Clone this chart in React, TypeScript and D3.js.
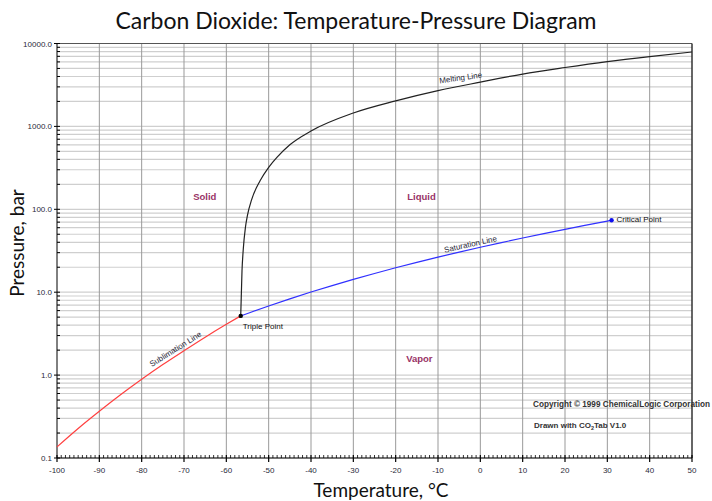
import React from "react";
import * as d3 from "d3";

// ---- data ----
const sublimationT = [-100, -95, -90, -85, -80, -75, -70, -65, -60, -56.6];
const sublimationP = [0.136, 0.227, 0.366, 0.578, 0.89, 1.34, 1.97, 2.87, 4.1, 5.18];

const saturationT = [-56.6, -55, -50, -45, -40, -35, -30, -25, -20, -15, -10, -5, 0, 5, 10, 15, 20, 25, 30, 31];
const saturationP = [5.18, 5.54, 6.82, 8.32, 10.05, 12.02, 14.28, 16.83, 19.7, 22.91, 26.49, 30.46, 34.85, 39.69, 45.02, 50.87, 57.29, 64.34, 72.14, 73.8];

const meltingT = [-56.6, -56.3, -56, -55.5, -55, -54, -52, -50, -48, -45, -40, -30, -20, -10, 0, 10, 20, 30, 40, 50];
const meltingP = [5.18, 18, 33, 60, 85, 132, 222, 320, 425, 600, 880, 1450, 2030, 2700, 3420, 4280, 5130, 6050, 6960, 7900];

const triplePoint = { t: -56.6, p: 5.18 };
const criticalPoint = { t: 31, p: 73.8 };

const xTicks = [-100, -90, -80, -70, -60, -50, -40, -30, -20, -10, 0, 10, 20, 30, 40, 50];
const yDecades = [0.1, 1, 10, 100, 1000, 10000];
const yTickLabels = ["0.1", "1.0", "10.0", "100.0", "1000.0", "10000.0"];

const regionLabels = [
  { text: "Solid", t: -65.1, p: 130 },
  { text: "Liquid", t: -13.9, p: 130 },
  { text: "Vapor", t: -14.4, p: 1.44 },
];

const TITLE = "Carbon Dioxide: Temperature-Pressure Diagram";

export default function App() {
  const W = 712;
  const H = 501;
  const left = 57;
  const right = 692;
  const top = 43.5;
  const bottom = 458;

  const x = d3.scaleLinear().domain([-100, 50]).range([left, right]);
  const y = d3.scaleLog().domain([0.1, 10000]).range([bottom, top]);

  const line = (ts: number[], ps: number[]) =>
    d3
      .line<number>()
      .x((_, i) => x(ts[i]))
      .y((_, i) => y(ps[i]))
      .curve(d3.curveMonotoneX)(ts) as string;

  const hGrid: number[] = [];
  yDecades.slice(0, -1).forEach((d) => {
    for (let k = 1; k <= 9; k++) hGrid.push(d * k);
  });
  hGrid.push(10000);

  const minorX: number[] = d3.range(-100, 51, 1);

  const smallFont = "'Liberation Sans', Arial, sans-serif";
  const textCol = "#2a2a3a";

  return (
    <svg width={W} height={H} style={{ position: "absolute", left: 0, top: 0, background: "#fff" }}>
      <rect x={0} y={0} width={W} height={H} fill="#fff" />
      {/* horizontal grid */}
      {hGrid.map((v, i) => (
        <line key={"h" + i} x1={left} x2={right} y1={y(v)} y2={y(v)} stroke="#cfcfcf" strokeWidth={1.2} />
      ))}
      {/* vertical grid */}
      {xTicks.slice(1, -1).map((t) => (
        <line key={"v" + t} x1={x(t)} x2={x(t)} y1={top} y2={bottom} stroke="#999" strokeWidth={1} />
      ))}
      {/* frame */}
      <line x1={left} x2={right} y1={top} y2={top} stroke="#555" strokeWidth={1} />
      <line x1={right} x2={right} y1={top} y2={bottom} stroke="#333" strokeWidth={1.5} />
      <line x1={left} x2={left} y1={top} y2={bottom} stroke="#000" strokeWidth={1} />
      <line x1={left} x2={right} y1={bottom} y2={bottom} stroke="#000" strokeWidth={1} />

      {/* x ticks */}
      {minorX.map((t) => (
        <line
          key={"mx" + t}
          x1={x(t)}
          x2={x(t)}
          y1={bottom - 3}
          y2={t % 10 === 0 ? bottom + 4 : bottom}
          stroke="#000"
          strokeWidth={t % 10 === 0 ? 1.2 : 0.8}
        />
      ))}
      {xTicks.map((t) => (
        <text key={"xl" + t} x={x(t)} y={bottom + 15} textAnchor="middle" fontFamily={smallFont} fontSize={8} fill={textCol}>
          {t}
        </text>
      ))}

      {/* y ticks */}
      {hGrid.map((v, i) => (
        <line
          key={"my" + i}
          x1={i % 9 === 0 || v === 10000 ? left - 3 : left}
          x2={left + 3}
          y1={y(v)}
          y2={y(v)}
          stroke="#000"
          strokeWidth={1}
        />
      ))}
      {yDecades.map((v, i) => (
        <text key={"yl" + v} x={left - 5} y={y(v) + 3} textAnchor="end" fontFamily={smallFont} fontSize={8} fill={textCol}>
          {yTickLabels[i]}
        </text>
      ))}

      {/* curves */}
      <path d={line(sublimationT, sublimationP)} fill="none" stroke="#ff4040" strokeWidth={1.2} />
      <path d={line(saturationT, saturationP)} fill="none" stroke="#3030ff" strokeWidth={1.2} />
      <path d={line(meltingT, meltingP)} fill="none" stroke="#222" strokeWidth={1.2} />

      <circle cx={x(triplePoint.t)} cy={y(triplePoint.p)} r={2.2} fill="#000" />
      <circle cx={x(criticalPoint.t)} cy={y(criticalPoint.p)} r={2.2} fill="#1010ee" />

      {/* curve labels */}
      <text x={x(-9.6)} y={y(3300)} transform={`rotate(-8, ${x(-9.6)}, ${y(3300)})`} fontFamily={smallFont} fontSize={8} fill={textCol}>
        Melting Line
      </text>
      <text x={x(-8.4)} y={y(30)} transform={`rotate(-12.5, ${x(-8.4)}, ${y(30)})`} fontFamily={smallFont} fontSize={8} fill={textCol}>
        Saturation Line
      </text>
      <text x={x(-77.6)} y={y(1.25)} transform={`rotate(-32, ${x(-77.6)}, ${y(1.25)})`} fontFamily={smallFont} fontSize={8} fill={textCol}>
        Sublimation Line
      </text>
      <text x={x(triplePoint.t) + 2} y={y(triplePoint.p) + 13} fontFamily={smallFont} fontSize={8} fill="#111">
        Triple Point
      </text>
      <text x={x(criticalPoint.t) + 5} y={y(criticalPoint.p) + 2} fontFamily={smallFont} fontSize={8} fill="#111">
        Critical Point
      </text>

      {/* region labels */}
      {regionLabels.map((r) => (
        <text
          key={r.text}
          x={x(r.t)}
          y={y(r.p)}
          textAnchor="middle"
          fontFamily={smallFont}
          fontWeight="bold"
          fontSize={9.5}
          fill="#993366"
        >
          {r.text}
        </text>
      ))}

      {/* credits */}
      <text x={533} y={407} fontFamily={smallFont} fontWeight="bold" fontSize={8.2} fill="#333">
        Copyright © 1999 ChemicalLogic Corporation
      </text>
      <text x={534} y={428} fontFamily={smallFont} fontWeight="bold" fontSize={8} fill="#333">
        Drawn with CO<tspan fontSize={5.5} dy={2}>2</tspan>
        <tspan dy={-2}>Tab V1.0</tspan>
      </text>

      {/* titles */}
      <text x={356} y={29} textAnchor="middle" fontFamily="Lato, 'Open Sans', sans-serif" fontSize={23} fill="#111">
        {TITLE}
      </text>
      <text x={381} y={497} textAnchor="middle" fontFamily="Lato, 'Open Sans', sans-serif" fontSize={19} fill="#111">
        Temperature, °C
      </text>
      <text
        x={0}
        y={0}
        transform={`translate(24, 243) rotate(-90)`}
        textAnchor="middle"
        fontFamily="Lato, 'Open Sans', sans-serif"
        fontSize={19}
        fill="#111"
      >
        Pressure, bar
      </text>
    </svg>
  );
}
